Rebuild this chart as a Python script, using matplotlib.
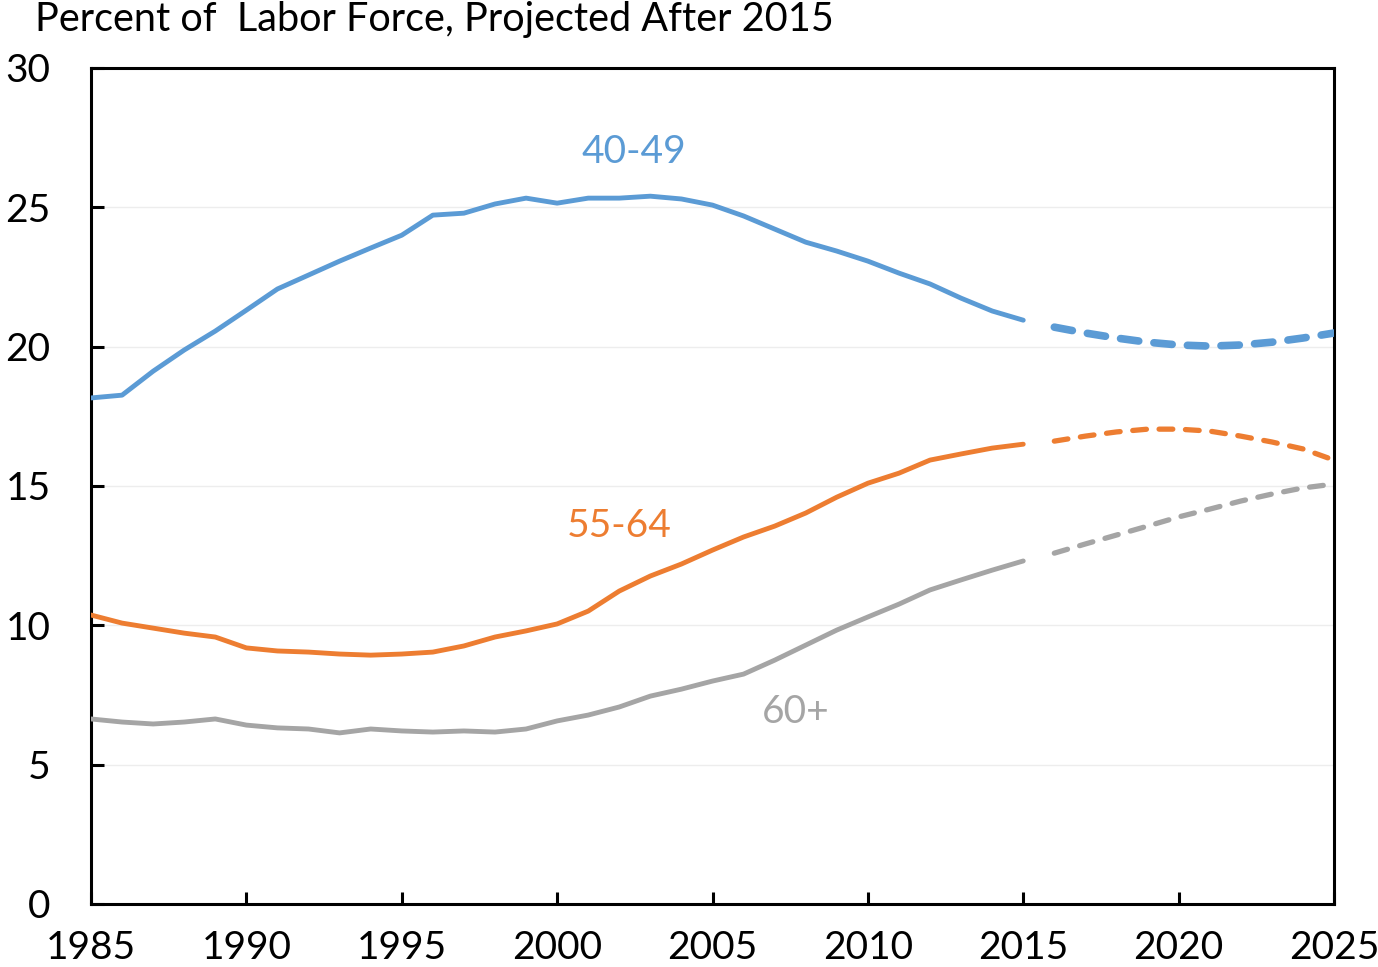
import matplotlib
matplotlib.use("Agg")
import matplotlib.pyplot as plt

years_hist = list(range(1985, 2016))
years_proj = list(range(2016, 2026))

age_40_49_hist = [18.16, 18.26, 19.12, 19.88, 20.56, 21.31, 22.07, 22.57, 23.07, 23.54,
                  24.00, 24.72, 24.79, 25.12, 25.33, 25.15, 25.33, 25.33, 25.40, 25.30,
                  25.08, 24.69, 24.22, 23.75, 23.43, 23.07, 22.64, 22.25, 21.74, 21.28, 20.95]
age_40_49_proj = [20.70, 20.49, 20.31, 20.16, 20.06, 20.02, 20.06, 20.16, 20.31, 20.49]

age_55_64_hist = [10.37, 10.08, 9.90, 9.72, 9.58, 9.19, 9.08, 9.04, 8.97, 8.93,
                  8.97, 9.04, 9.26, 9.58, 9.80, 10.05, 10.51, 11.23, 11.77, 12.20,
                  12.70, 13.17, 13.56, 14.03, 14.60, 15.10, 15.46, 15.93, 16.15, 16.36, 16.50]
age_55_64_proj = [16.61, 16.79, 16.94, 17.04, 17.04, 16.97, 16.79, 16.58, 16.33, 15.93]

age_60p_hist = [6.64, 6.53, 6.46, 6.53, 6.64, 6.42, 6.32, 6.28, 6.14, 6.28,
                6.21, 6.17, 6.21, 6.17, 6.28, 6.57, 6.78, 7.07, 7.46, 7.71,
                8.00, 8.25, 8.75, 9.29, 9.83, 10.30, 10.76, 11.27, 11.63, 11.98, 12.31]
age_60p_proj = [12.59, 12.92, 13.24, 13.56, 13.89, 14.17, 14.46, 14.71, 14.93, 15.07]

series_labels = ["40-49", "55-64", "60+"]
x_ticks = [1985, 1990, 1995, 2000, 2005, 2010, 2015, 2020, 2025]
y_ticks = [0, 5, 10, 15, 20, 25, 30]
title = "Percent of  Labor Force, Projected After 2015"

FONT = ["Lato", "DejaVu Sans"]
plt.rcParams['font.family'] = FONT

blue = "#5B9BD5"
orange = "#ED7D31"
gray = "#A5A5A5"

fig = plt.figure(figsize=(13.78, 9.67), dpi=100)
ax = fig.add_axes([91/1378, 1 - 904/967, (1334-91)/1378, (904-68)/967])

ax.plot(years_hist, age_40_49_hist, color=blue, lw=3.5, solid_capstyle='round', zorder=3)
ax.plot(years_proj, age_40_49_proj, color=blue, lw=5.5, dashes=(2.4, 2.0),
        dash_capstyle='round', zorder=3)
ax.plot(years_hist, age_55_64_hist, color=orange, lw=3.5, solid_capstyle='round', zorder=3)
ax.plot(years_proj, age_55_64_proj, color=orange, lw=3.8, dashes=(2.6, 2.4),
        dash_capstyle='round', zorder=3)
ax.plot(years_hist, age_60p_hist, color=gray, lw=3.5, solid_capstyle='round', zorder=3)
ax.plot(years_proj, age_60p_proj, color=gray, lw=3.8, dashes=(2.6, 2.4),
        dash_capstyle='round', zorder=3)

ax.text(2002.47, 26.98, series_labels[0], color=blue, fontsize=28, ha='center', va='center')
ax.text(2001.99, 13.56, series_labels[1], color=orange, fontsize=28, ha='center', va='center')
ax.text(2007.69, 6.89, series_labels[2], color=gray, fontsize=28, ha='center', va='center')

ax.set_xlim(1985, 2025)
ax.set_ylim(0, 30)
ax.set_xticks(x_ticks)
ax.set_yticks(y_ticks)
ax.set_xticklabels([str(v) for v in x_ticks])
ax.set_yticklabels([str(v) for v in y_ticks])
ax.tick_params(axis='both', direction='in', length=9, width=2.2, labelsize=28, color='black')
ax.tick_params(axis='y', pad=29)
ax.tick_params(axis='x', pad=19)
ax.grid(axis='y', color='#EDEDED', lw=1.0, zorder=0)
for s in ax.spines.values():
    s.set_linewidth(2.2)
    s.set_color('black')

fig.text(35/1378, 1 - 1/967, title, fontsize=28.5, ha='left', va='top')

fig.savefig("out.png", dpi=100)
